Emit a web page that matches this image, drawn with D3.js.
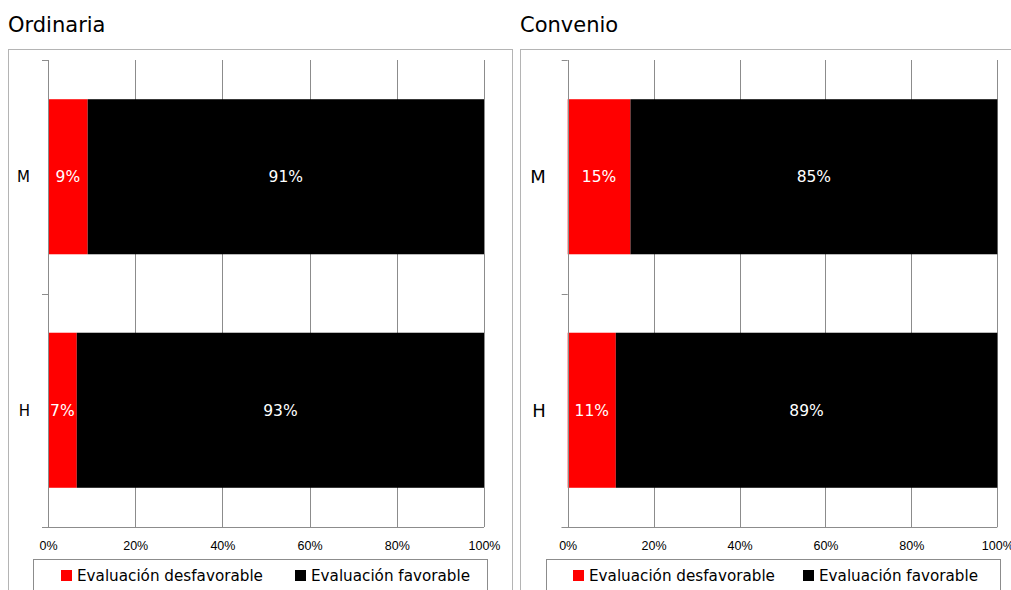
<!DOCTYPE html>
<html lang="es">
<head>
    <meta charset="UTF-8">
    <title>Evaluación por sexo</title>
    <style>
        body {
            margin: 0;
            padding: 0;
            background: #fff;
            font-family: "DejaVu Sans", Verdana, sans-serif;
        }
        .grid line { stroke: #8c8c8c; stroke-width: 1px; }
        .axis path, .axis line { stroke: #8c8c8c; }
        .axis text { font-size: 12.5px; fill: #000; }
        .cat text { fill: #000; }
        .bar-label { fill: #fff; font-size: 15.5px; text-anchor: middle; }
        .legend text { font-size: 15.2px; fill: #000; }
    </style>
</head>
<body>
    <div id="chart"></div>

    <script src="https://d3js.org/d3.v7.min.js"></script>
    <script>
        // Data
        const categories = ["M", "H"];
        const series = ["Evaluación desfavorable", "Evaluación favorable"];
        const colors = ["#ff0000", "#000000"];
        const xTicks = [0, 20, 40, 60, 80, 100];

        const ordinariaDesf = [9.1, 6.6];
        const ordinariaFav = [90.9, 93.4];
        const convenioDesf = [14.6, 11.2];
        const convenioFav = [85.4, 88.8];

        const svg = d3.select("#chart")
            .append("svg")
            .attr("width", 1011)
            .attr("height", 590);

        // Draws one panel (frame, title, bars, axes, legend)
        function drawPanel(opt) {
            const g = svg.append("g");

            // frame
            g.append("rect")
                .attr("x", opt.frameX + 0.5)
                .attr("y", 49.5)
                .attr("width", opt.frameW)
                .attr("height", 600)
                .attr("fill", "none")
                .attr("stroke", "#b4b4b4");

            // title
            g.append("text")
                .attr("x", opt.frameX)
                .attr("y", 32)
                .attr("font-size", "21px")
                .attr("fill", "#000")
                .text(opt.title);

            const x = d3.scaleLinear().domain([0, 100]).range([opt.x0, opt.x1]);
            const y = d3.scaleBand().domain(categories).range([60, 527]).paddingInner(0.336).paddingOuter(0.168);

            // vertical gridlines
            g.append("g")
                .attr("class", "grid")
                .selectAll("line")
                .data(xTicks)
                .enter().append("line")
                .attr("x1", d => Math.round(x(d)) + 0.5)
                .attr("x2", d => Math.round(x(d)) + 0.5)
                .attr("y1", 60)
                .attr("y2", 527);

            // stacked bars
            const rows = categories.map((c, i) => ({ cat: c, vals: [opt.desf[i], opt.fav[i]] }));
            rows.forEach(r => {
                let start = 0;
                r.vals.forEach((v, k) => {
                    g.append("rect")
                        .attr("x", x(start))
                        .attr("y", y(r.cat))
                        .attr("width", x(start + v) - x(start))
                        .attr("height", y.bandwidth())
                        .attr("fill", colors[k]);
                    g.append("text")
                        .attr("class", "bar-label")
                        .attr("x", x(start + v / 2))
                        .attr("y", y(r.cat) + y.bandwidth() / 2)
                        .attr("dy", "0.35em")
                        .text(Math.round(v) + "%");
                    start += v;
                });
            });

            // x axis
            const xAxis = g.append("g")
                .attr("class", "axis")
                .attr("transform", "translate(0,527)")
                .call(d3.axisBottom(x).tickValues(xTicks).tickSize(0).tickPadding(14).tickFormat(d => d + "%"));
            xAxis.select(".domain").attr("d", `M${opt.x0 - 6},0.5H${opt.x1}`);

            // y axis with ticks between categories
            const yAxis = g.append("g").attr("class", "axis");
            yAxis.append("line")
                .attr("x1", Math.round(opt.x0) + 0.5).attr("x2", Math.round(opt.x0) + 0.5)
                .attr("y1", 60).attr("y2", 527);
            yAxis.selectAll(".ytick")
                .data([60, 293.5, 527])
                .enter().append("line")
                .attr("class", "ytick")
                .attr("x1", opt.x0 - 6).attr("x2", opt.x0)
                .attr("y1", d => Math.round(d) + 0.5).attr("y2", d => Math.round(d) + 0.5);

            g.append("g")
                .attr("class", "cat")
                .selectAll("text")
                .data(categories)
                .enter().append("text")
                .attr("x", opt.x0 - opt.catGap)
                .attr("y", d => y(d) + y.bandwidth() / 2)
                .attr("dy", "0.35em")
                .attr("text-anchor", "end")
                .attr("font-size", opt.catSize + "px")
                .text(d => d);

            // legend
            const lg = g.append("g").attr("class", "legend");
            lg.append("rect")
                .attr("x", opt.legX + 0.5)
                .attr("y", 559.5)
                .attr("width", opt.legW)
                .attr("height", 40)
                .attr("fill", "none")
                .attr("stroke", "#8c8c8c");
            series.forEach((s, k) => {
                lg.append("rect")
                    .attr("x", opt.legItems[k])
                    .attr("y", 570)
                    .attr("width", 11)
                    .attr("height", 11)
                    .attr("fill", colors[k]);
                lg.append("text")
                    .attr("x", opt.legItems[k] + 16)
                    .attr("y", 581)
                    .text(s);
            });
        }

        drawPanel({
            title: "Ordinaria", frameX: 8, frameW: 504,
            x0: 48, x1: 484, desf: ordinariaDesf, fav: ordinariaFav,
            catGap: 18, catSize: 15,
            legX: 33, legW: 454, legItems: [61, 295]
        });

        drawPanel({
            title: "Convenio", frameX: 520, frameW: 520,
            x0: 567.7, x1: 997.3, desf: convenioDesf, fav: convenioFav,
            catGap: 22, catSize: 18,
            legX: 546, legW: 454, legItems: [573, 803]
        });
    </script>
</body>
</html>
